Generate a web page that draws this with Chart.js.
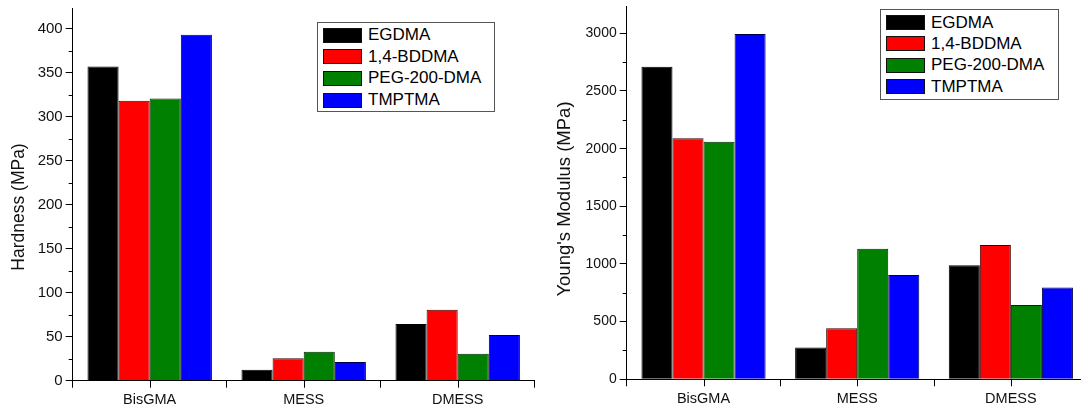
<!DOCTYPE html>
<html>
<head>
<meta charset="utf-8">
<script src="https://cdn.jsdelivr.net/npm/chart.js@4.4.1/dist/chart.umd.min.js"></script>
<style>
  html, body { margin: 0; padding: 0; background: #fff; overflow: hidden; }
  #wrap { position: relative; width: 1081px; height: 408px; overflow: hidden; background: #fff; }
  canvas { position: absolute; top: 0; }
  #hardness { left: 0; }
  #modulus { left: 540px; }
  .legend { position: absolute; box-sizing: border-box; border: 1px solid #555; background: #fff;
            font-family: 'Liberation Sans', Arial, sans-serif; font-size: 17px; color: #000; }
  .legend .row { position: absolute; height: 15px; display: flex; align-items: center; white-space: nowrap; }
  .legend .sw { width: 39px; height: 15px; box-sizing: border-box; border: 1px solid #111; margin-right: 6px; }
</style>
</head>
<body>
<div id="wrap">
  <canvas id="hardness" width="540" height="408"></canvas>
  <canvas id="modulus" width="560" height="408"></canvas>
  <div id="legend1" class="legend" style="left:317px;top:22px;width:178px;height:90px;"></div>
  <div id="legend2" class="legend" style="left:880px;top:9px;width:179px;height:91px;"></div>
</div>
<script>
// Resin systems (x categories) and diluent monomers (series)
const categories = ['BisGMA', 'MESS', 'DMESS'];
const monomers = ['EGDMA', '1,4-BDDMA', 'PEG-200-DMA', 'TMPTMA'];
const fillColors = ['#000000', '#ff0000', '#008000', '#0000ff'];
const edgeColors = ['#000000', '#3a0000', '#002a00', '#00004a'];

// Hardness (MPa)
const hardnessEGDMA  = [357, 12.5, 64.5];
const hardnessBDDMA  = [318, 25.5, 80.5];
const hardnessPEG    = [320.5, 33, 30.7];
const hardnessTMPTMA = [393, 21.3, 52];

// Young's modulus (MPa)
const modulusEGDMA  = [2710, 275, 990];
const modulusBDDMA  = [2090, 442, 1165];
const modulusPEG    = [2060, 1133, 645];
const modulusTMPTMA = [2995, 905, 795];

// Labelled y ticks and axis ranges
const hardnessTicks = [0, 50, 100, 150, 200, 250, 300, 350, 400];
const modulusTicks  = [0, 500, 1000, 1500, 2000, 2500, 3000];
const hardnessMax = 423, hardnessMinorStep = 50;
const modulusMax = 3237, modulusMinorStep = 500;

const FONT = "'Liberation Sans', Arial, sans-serif";

function makeDatasets(series) {
  return series.map((data, i) => ({
    label: monomers[i],
    data: data,
    backgroundColor: fillColors[i],
    borderColor: edgeColors[i],
    borderWidth: 1,
    categoryPercentage: 0.808,
    barPercentage: 1.0
  }));
}

// Minor y ticks, category-centre x ticks and the rotated axis title
const axisExtras = {
  id: 'axisExtras',
  afterDraw(chart, args, opts) {
    const ctx = chart.ctx;
    const xs = chart.scales.x, ys = chart.scales.y;
    ctx.save();
    ctx.strokeStyle = '#000';
    ctx.lineWidth = 1;
    ctx.beginPath();
    for (let v = opts.step / 2; v < ys.max; v += opts.step) {
      const py = Math.round(ys.getPixelForValue(v)) + 0.5;
      ctx.moveTo(ys.right - 4, py);
      ctx.lineTo(ys.right, py);
    }
    categories.forEach((c, i) => {
      const px = Math.round(xs.getPixelForValue(i)) + 0.5;
      ctx.moveTo(px, xs.top);
      ctx.lineTo(px, xs.top + 7);
    });
    ctx.stroke();
    ctx.translate(opts.titleX, opts.titleY);
    ctx.rotate(-Math.PI / 2);
    ctx.fillStyle = '#111';
    ctx.font = opts.titleSize + 'px ' + FONT;
    ctx.textAlign = 'center';
    ctx.textBaseline = 'middle';
    ctx.fillText(opts.title, 0, 0);
    ctx.restore();
  }
};

function makeChart(id, series, yTicks, yMax, geom, extras) {
  return new Chart(document.getElementById(id), {
    type: 'bar',
    data: { labels: categories, datasets: makeDatasets(series) },
    plugins: [axisExtras],
    options: {
      responsive: false,
      animation: false,
      devicePixelRatio: 1,
      layout: { padding: { left: 0, right: geom.padRight, top: geom.top, bottom: 0 } },
      plugins: { legend: { display: false }, tooltip: { enabled: false }, axisExtras: extras },
      scales: {
        x: {
          grid: { display: true, drawOnChartArea: false, drawTicks: true, tickLength: 7, color: '#000', offset: true },
          border: { display: true, color: '#000', width: 1 },
          ticks: { color: '#111', padding: 4, font: { family: FONT, size: 14.5 } },
          afterFit: s => { s.height = geom.xHeight; s.paddingLeft = 0; s.paddingRight = 0; }
        },
        y: {
          min: 0,
          max: yMax,
          grid: { display: true, drawOnChartArea: false, drawTicks: true, tickLength: 7, color: '#000' },
          border: { display: true, color: '#000', width: 1 },
          ticks: { color: '#111', padding: 3, font: { family: FONT, size: geom.tickSize },
                   callback: v => String(v) },
          afterBuildTicks: s => { s.ticks = yTicks.map(v => ({ value: v })); },
          afterFit: s => { s.width = geom.yWidth; s.paddingTop = 0; s.paddingBottom = 0; }
        }
      }
    }
  });
}

makeChart('hardness', [hardnessEGDMA, hardnessBDDMA, hardnessPEG, hardnessTMPTMA],
  hardnessTicks, hardnessMax,
  { yWidth: 72.7, padRight: 5.3, top: 8.3, xHeight: 27.3, tickSize: 15 },
  { step: hardnessMinorStep, title: 'Hardness (MPa)', titleX: 19, titleY: 207, titleSize: 17.5 });

makeChart('modulus', [modulusEGDMA, modulusBDDMA, modulusPEG, modulusTMPTMA],
  modulusTicks, modulusMax,
  { yWidth: 86.7, padRight: 12.3, top: 6, xHeight: 28.7, tickSize: 14 },
  { step: modulusMinorStep, title: "Young's Modulus (MPa)", titleX: 25, titleY: 199, titleSize: 18.5 });

// Boxed legends drawn from the series definitions
function buildLegend(id, firstTop, pitch) {
  const box = document.getElementById(id);
  monomers.forEach((name, i) => {
    const row = document.createElement('div');
    row.className = 'row';
    row.style.left = '5px';
    row.style.top = (firstTop + i * pitch) + 'px';
    const sw = document.createElement('div');
    sw.className = 'sw';
    sw.style.background = fillColors[i];
    const txt = document.createElement('span');
    txt.textContent = name;
    row.appendChild(sw);
    row.appendChild(txt);
    box.appendChild(row);
  });
}
buildLegend('legend1', 4.7, 21.6);
buildLegend('legend2', 5, 21.4);
</script>
</body>
</html>
